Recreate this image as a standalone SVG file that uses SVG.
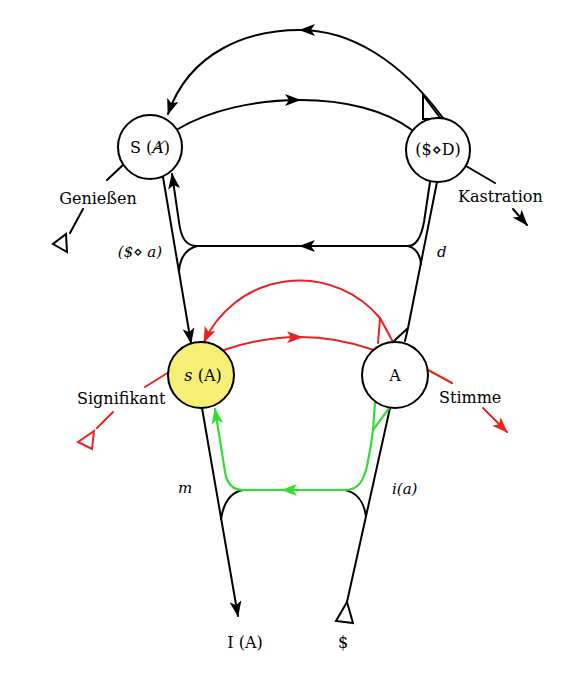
<svg xmlns="http://www.w3.org/2000/svg" width="580" height="696" viewBox="0 0 580 696">
<style>
.k{fill:none;stroke:#000;stroke-width:2;stroke-linecap:round;stroke-linejoin:round}
.r{fill:none;stroke:#e8231f;stroke-width:2;stroke-linecap:round;stroke-linejoin:round}
.g{fill:none;stroke:#33dd33;stroke-width:2.2;stroke-linecap:round;stroke-linejoin:round}
.tri{fill:none;stroke:#000;stroke-width:2;stroke-linejoin:miter}
.trir{fill:none;stroke:#e8231f;stroke-width:2;stroke-linejoin:miter}
.node{fill:#fff;stroke:#000;stroke-width:2}
.y{fill:#f5ef77}
text{font-family:"DejaVu Serif","Liberation Serif",serif;font-size:16px;fill:#000}
.it{font-style:italic}
.m{text-anchor:middle}
</style>
<defs>
<marker id="ak" viewBox="0 0 16 12" refX="15" refY="6" markerWidth="16" markerHeight="12" markerUnits="userSpaceOnUse" orient="auto"><path d="M0,0 L16,6 L0,12 L4,6 z" fill="#000"/></marker>
<marker id="ar" viewBox="0 0 16 12" refX="15" refY="6" markerWidth="16" markerHeight="12" markerUnits="userSpaceOnUse" orient="auto"><path d="M0,0 L16,6 L0,12 L4,6 z" fill="#e8231f"/></marker>
<marker id="ag" viewBox="0 0 16 12" refX="15" refY="6" markerWidth="16" markerHeight="12" markerUnits="userSpaceOnUse" orient="auto"><path d="M0,0 L16,6 L0,12 L4,6 z" fill="#33dd33"/></marker>
</defs>
<g id="connectors">
<!-- top arcs -->
<path class="k" d="M443,118 C400,60 350,30 300,30 C250,30 190,50 168,114" marker-mid="url(#ak)" marker-end="url(#ak)"/>
<polygon class="tri" points="423,95 423,119 441,119"/>
<path class="k" d="M178,129 C210,110 255,100 300,100 C345,100 385,110 412,130" marker-mid="url(#ak)"/>
<!-- left upper -->
<path class="k" d="M163,177 L191,343" marker-end="url(#ak)"/>
<path class="k" d="M197,246 C186,246 181,238 179,222 L172,174" marker-end="url(#ak)"/>
<path class="k" d="M197,246 C186,249 180,258 179,271"/>
<path class="k" d="M408,246 L300,246 L197,246" marker-mid="url(#ak)"/>
<!-- right upper -->
<path class="k" d="M437,182 L408,328 L405,341 M408,328 L394,341"/>
<path class="k" d="M430,182 L424,222 C421,238 416,246 408,246"/>
<path class="k" d="M408,246 C415,248 420,254 421,264"/>
<!-- Genießen / Kastration -->
<path class="k" d="M123,165 L107,180"/>
<path class="k" d="M83,209 L70,233"/>
<polygon class="tri" points="66,234 53,244 67,252"/>
<path class="k" d="M466,166 L495,183"/>
<path class="k" d="M513,209 L527,225" marker-end="url(#ak)"/>
<!-- lower black -->
<path class="k" d="M202,408 L238,616" marker-end="url(#ak)"/>
<path class="k" d="M390,408 L347,602"/>
<polygon class="tri" points="347,602 336,621 353,623"/>
<path class="k" d="M243,490 C232,492 224,500 221,519"/>
<path class="k" d="M345,490 C355,492 364,500 366,517"/>
<!-- red -->
<path class="r" d="M380,318 A105,105 0 0 0 204,342" marker-end="url(#ar)"/>
<path class="r" d="M380,318 L378,343 M380,318 L393,342"/>
<path class="r" d="M224,350 Q300,324 374,350"/>
<path class="r" d="M290,337.2 L302,337.2" marker-end="url(#ar)"/>
<path class="r" d="M169,372 L145,387"/>
<path class="r" d="M113,412 L97,428"/>
<polygon class="trir" points="94,431 78,442 92,449"/>
<path class="r" d="M428,370 L452,383"/>
<path class="r" d="M483,408 L507,432" marker-end="url(#ar)"/>
<!-- green -->
<path class="g" d="M375,403 L373,430 C371,445 368,462 366,470 C362,484 356,490 345,490 L243,490 C233,490 227,484 225,472 L215,409" marker-end="url(#ag)"/>
<path class="g" d="M373,430 L390,407"/>
<path class="g" d="M293,490 L282,490" marker-end="url(#ag)"/>
</g>
<g id="node-SA">
<circle class="node" cx="150" cy="147" r="32"/>
<text class="m" x="150" y="153">S (<tspan class="it">Ⱥ</tspan>)</text>
</g>
<g id="node-SD">
<circle class="node" cx="438" cy="150" r="32"/>
<text class="m" x="438" y="155">($⋄D)</text>
</g>
<g id="node-sA">
<circle class="node y" cx="201" cy="375" r="33"/>
<text class="m" x="203" y="381"><tspan class="it">s</tspan> (A)</text>
</g>
<g id="node-A">
<circle class="node" cx="395" cy="375" r="33"/>
<text class="m" x="395" y="381">A</text>
</g>
<g id="labels">
<text class="m" x="98" y="204">Genießen</text>
<text x="458" y="202">Kastration</text>
<text x="77" y="404">Signifikant</text>
<text x="439" y="403">Stimme</text>
<text class="m it" x="140" y="257" style="font-size:15px">($⋄ a)</text>
<text class="it" x="437" y="257" style="font-size:15px">d</text>
<text class="m it" x="185" y="493" style="font-size:15px">m</text>
<text class="it" x="392" y="494" style="font-size:15px">i(a)</text>
<text class="m" x="245" y="648">I (A)</text>
<text class="m" x="343" y="648">$</text>
</g>
</svg>
